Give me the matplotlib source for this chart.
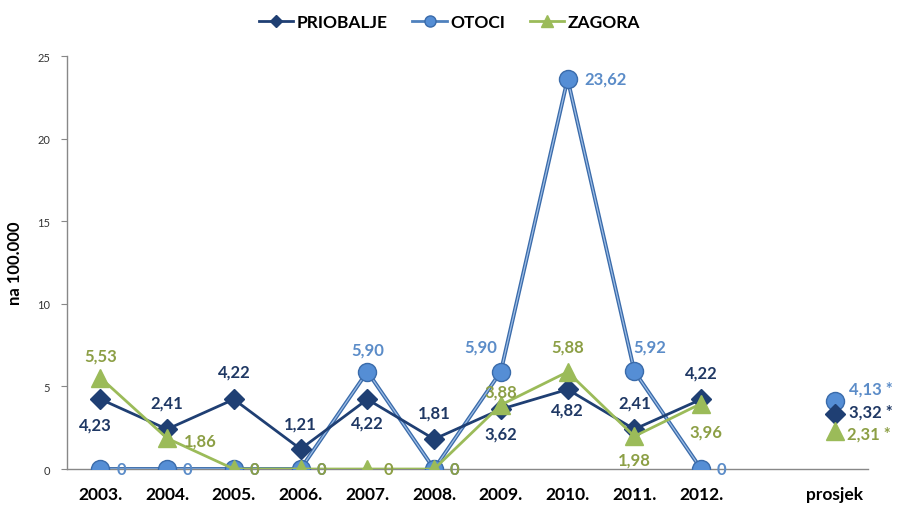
import matplotlib
matplotlib.use("Agg")
import matplotlib.pyplot as plt
import matplotlib.patheffects as pe
from matplotlib.lines import Line2D

plt.rcParams['font.family'] = ['Lato', 'DejaVu Sans']

# categories: ten years, one empty slot, then the average
categories = ['2003.', '2004.', '2005.', '2006.', '2007.', '2008.', '2009.', '2010.', '2011.', '2012.', '', 'prosjek']
years = list(range(10))
avg_pos = 11

priobalje = [4.23, 2.41, 4.22, 1.21, 4.22, 1.81, 3.62, 4.82, 2.41, 4.22]
otoci = [0, 0, 0, 0, 5.90, 0, 5.90, 23.62, 5.92, 0]
zagora = [5.53, 1.86, 0, 0, 0, 0, 3.88, 5.88, 1.98, 3.96]

priobalje_avg = 3.32
otoci_avg = 4.13
zagora_avg = 2.31

# label offsets in pixels (dx, dy) and horizontal alignment per point
pri_off = [(-5, -25), (0, 27), (0, 28), (0, 26), (0, -23), (0, 27), (0, -24), (0, -20), (0, 27), (0, 27)]
oto_off = [(16, 0, 'left'), (16, 0, 'left'), (16, 0, 'left'), (16, 0, 'left'), (0, 22, 'center'),
           (16, 0, 'left'), (-20, 25, 'center'), (17, 0, 'left'), (15, 25, 'center'), (16, 0, 'left')]
zag_off = [(0, 22, 'center'), (17, -2, 'left'), (16, 0, 'left'), (16, 0, 'left'), (16, 0, 'left'),
           (16, 0, 'left'), (0, 13, 'center'), (0, 25, 'center'), (0, -23, 'center'), (5, -28, 'center')]

c_pri = '#1F3F73'
c_pri_txt = '#1F3864'
c_oto = '#4F81BD'
c_oto_edge = '#3A6BAA'
c_oto_fill = '#558ED5'
c_oto_txt = '#5B8CC8'
c_zag = '#9BBB59'
c_zag_txt = '#8C9F45'

fig = plt.figure(figsize=(8.99, 5.10), dpi=100)
ax = fig.add_axes([0.0745, 0.0784, 0.891, 0.8096])

def fmt(v):
    if v == 0:
        return '0'
    return ('%.2f' % v).replace('.', ',')

# OTOCI line has a lighter core, markers drawn separately
line_fx = [pe.Stroke(linewidth=2.8, foreground=c_oto_edge), pe.Stroke(linewidth=0.9, foreground='#9DBDE6')]
ax.plot(years, otoci, color=c_oto, lw=2, zorder=3, path_effects=line_fx)
ax.plot(years, otoci, ls='none', marker='o', ms=13, mfc=c_oto_fill, mec=c_oto_edge, mew=1, zorder=3)
ax.plot(years, priobalje, color=c_pri, lw=2, marker='D', ms=10, mfc=c_pri, mec=c_pri, zorder=4)
ax.plot(years, zagora, color=c_zag, lw=2, marker='^', ms=13, mfc=c_zag, mec=c_zag, zorder=5)

# averages as single markers
ax.plot([avg_pos], [otoci_avg], marker='o', ms=13, mfc=c_oto_fill, mec=c_oto_edge, mew=1, zorder=3)
ax.plot([avg_pos], [priobalje_avg], marker='D', ms=10, color=c_pri, zorder=4)
ax.plot([avg_pos], [zagora_avg], marker='^', ms=13, color=c_zag, zorder=5)

lbl = dict(fontsize=12, fontweight='bold', textcoords='offset pixels', va='center', zorder=6)
for x, v, (dx, dy) in zip(years, priobalje, pri_off):
    ax.annotate(fmt(v), (x, v), xytext=(dx, dy), ha='center', color=c_pri_txt, **lbl)
for x, v, (dx, dy, ha) in zip(years, otoci, oto_off):
    ax.annotate(fmt(v), (x, v), xytext=(dx, dy), ha=ha, color=c_oto_txt, **lbl)
for x, v, (dx, dy, ha) in zip(years, zagora, zag_off):
    ax.annotate(fmt(v), (x, v), xytext=(dx, dy), ha=ha, color=c_zag_txt, **lbl)

ax.annotate(fmt(otoci_avg) + ' *', (avg_pos, otoci_avg), xytext=(14, 12), ha='left', color=c_oto_txt, **lbl)
ax.annotate(fmt(priobalje_avg) + ' *', (avg_pos, priobalje_avg), xytext=(14, 3), ha='left', color=c_pri_txt, **lbl)
ax.annotate(fmt(zagora_avg) + ' *', (avg_pos, zagora_avg), xytext=(12, -3), ha='left', color=c_zag_txt, **lbl)

ax.set_xlim(-0.5, len(categories) - 0.5)
ax.set_ylim(0, 25)
ax.set_yticks([0, 5, 10, 15, 20, 25])
ax.set_xticks(range(len(categories)))
ax.set_xticklabels(categories, fontsize=12.5, fontweight='bold')
ax.tick_params(axis='x', length=0, pad=12)
ax.tick_params(axis='y', labelsize=8, length=4, color='#888888', labelcolor='#333333', pad=8)
for s in ['top', 'right']:
    ax.spines[s].set_visible(False)
for s in ['left', 'bottom']:
    ax.spines[s].set_color('#888888')
    ax.spines[s].set_linewidth(1)
ax.spines['bottom'].set_zorder(2)

ax.set_ylabel('na 100.000', fontsize=12, fontweight='bold', labelpad=10)

handles = [
    Line2D([], [], color=c_pri, lw=2, marker='D', ms=6),
    Line2D([], [], color=c_oto, lw=2, marker='o', ms=8, mfc=c_oto_fill, mec=c_oto_edge),
    Line2D([], [], color=c_zag, lw=2, marker='^', ms=8),
]
fig.legend(handles, ['PRIOBALJE', 'OTOCI', 'ZAGORA'], loc='center',
           bbox_to_anchor=(0.5, 0.955), ncol=3, frameon=False, handlelength=2,
           handletextpad=0.2, columnspacing=1.4,
           prop={'weight': 'bold', 'size': 12.5})

fig.savefig('out.png', dpi=100)
